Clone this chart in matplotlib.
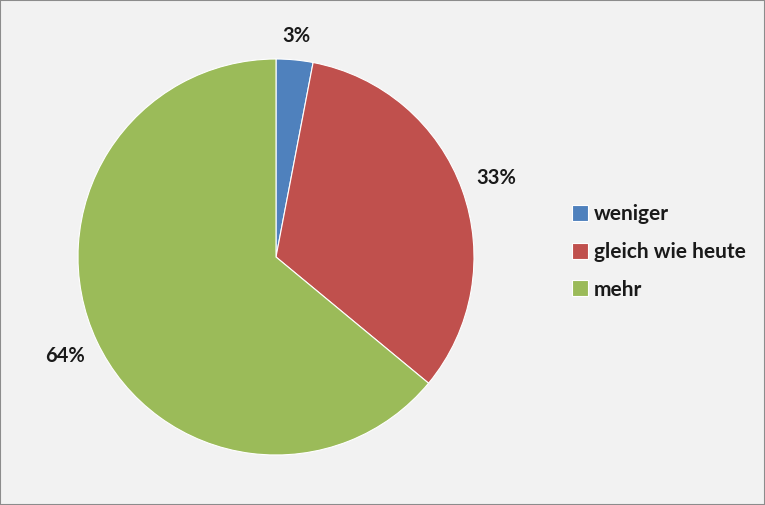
import matplotlib
matplotlib.use("Agg")
import matplotlib.pyplot as plt
from matplotlib.patches import Rectangle

categories = ["weniger", "gleich wie heute", "mehr"]
values = [3, 33, 64]
colors = ["#4f81bd", "#c0504d", "#9bbb59"]

FONT = ['Lato', 'DejaVu Sans']
plt.rcParams['font.family'] = FONT

W, H = 765, 505
fig = plt.figure(figsize=(W/100, H/100), dpi=100)
fig.patch.set_facecolor("#f2f2f2")
fig.patches.append(Rectangle((0, 0), 1, 1, transform=fig.transFigure,
                             fill=False, edgecolor="#8c8c8c", linewidth=1.5))

cx, cy, r = 276, 505 - 257, 198
ax = fig.add_axes([(cx - r)/W, (cy - r)/H, 2*r/W, 2*r/H])
ax.set_facecolor("none")

wedges, texts, autotexts = ax.pie(
    values, colors=colors, startangle=90, counterclock=False,
    autopct=lambda p: f"{p:.0f}%", pctdistance=1.18,
    wedgeprops=dict(edgecolor="white", linewidth=0.8),
    textprops=dict(fontsize=14.5, fontweight='bold', color="#1a1a1a"))
# small slice label sits closer to the rim
x0, y0 = autotexts[0].get_position()
autotexts[0].set_position((x0 * 1.12 / 1.18, y0 * 1.12 / 1.18))
ax.set_xlim(-1, 1)
ax.set_ylim(-1, 1)
ax.set_aspect('equal')

leg = fig.legend(wedges, categories, loc="center left",
                 bbox_to_anchor=(553/W, 1 - 252/H), frameon=False,
                 prop=dict(family=FONT, size=15, weight='bold'),
                 handlelength=0.8, handleheight=0.8, handletextpad=0.25,
                 labelspacing=0.85)
for t in leg.get_texts():
    t.set_color("#1a1a1a")

fig.savefig("out.png", dpi=100, facecolor=fig.get_facecolor())
